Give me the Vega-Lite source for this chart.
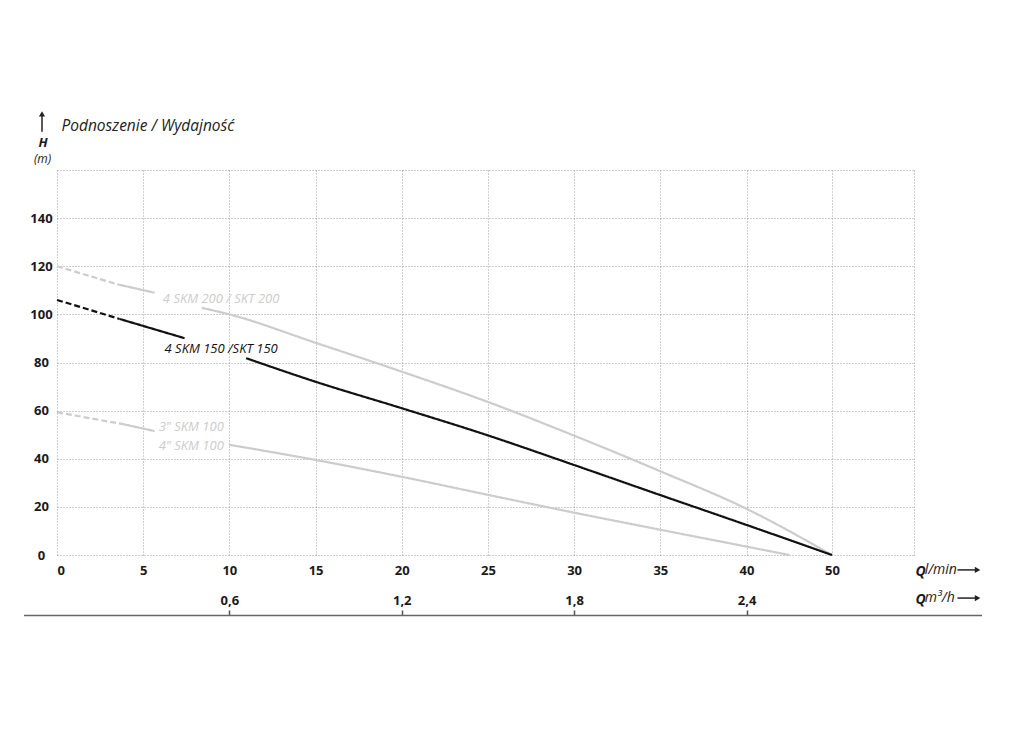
{
  "$schema": "https://vega.github.io/schema/vega-lite/v6.json",
  "width": 857,
  "height": 385,
  "autosize": {"type": "none"},
  "padding": {"left": 57, "top": 170, "right": 110, "bottom": 177},
  "background": "white",
  "config": {
    "view": {"stroke": null},
    "font": "Open Sans",
    "axis": {"labelFont": "Open Sans", "titleFont": "Open Sans", "labelColor": "#1a1a1a", "titleColor": "#1a1a1a"},
    "text": {"font": "Open Sans"}
  },
  "resolve": {"scale": {"x": "independent"}, "axis": {"x": "independent"}},
  "layer": [
    {
      "layer": [
        {
          "data": {
            "values": [
              {"pump": "3\"/4\" SKM 100", "seg": "100a", "style": "dashed", "q": 0, "h": 59.3},
              {"pump": "3\"/4\" SKM 100", "seg": "100a", "style": "dashed", "q": 3.82, "h": 54.4},
              {"pump": "3\"/4\" SKM 100", "seg": "100b", "style": "solid", "q": 3.82, "h": 54.4},
              {"pump": "3\"/4\" SKM 100", "seg": "100b", "style": "solid", "q": 5.66, "h": 51.5},
              {"pump": "3\"/4\" SKM 100", "seg": "100c", "style": "solid", "q": 10, "h": 45.8},
              {"pump": "3\"/4\" SKM 100", "seg": "100c", "style": "solid", "q": 15, "h": 39.5},
              {"pump": "3\"/4\" SKM 100", "seg": "100c", "style": "solid", "q": 20, "h": 32.5},
              {"pump": "3\"/4\" SKM 100", "seg": "100c", "style": "solid", "q": 25, "h": 25.0},
              {"pump": "3\"/4\" SKM 100", "seg": "100c", "style": "solid", "q": 30, "h": 17.6},
              {"pump": "3\"/4\" SKM 100", "seg": "100c", "style": "solid", "q": 35, "h": 10.5},
              {"pump": "3\"/4\" SKM 100", "seg": "100c", "style": "solid", "q": 40, "h": 3.5},
              {"pump": "3\"/4\" SKM 100", "seg": "100c", "style": "solid", "q": 45, "h": 0},
              {"pump": "4 SKM 200 / SKT 200", "seg": "200a", "style": "dashed", "q": 0, "h": 120},
              {"pump": "4 SKM 200 / SKT 200", "seg": "200a", "style": "dashed", "q": 3.5, "h": 112.5},
              {"pump": "4 SKM 200 / SKT 200", "seg": "200b", "style": "solid", "q": 3.5, "h": 112.5},
              {"pump": "4 SKM 200 / SKT 200", "seg": "200b", "style": "solid", "q": 5.66, "h": 109.0},
              {"pump": "4 SKM 200 / SKT 200", "seg": "200c", "style": "solid", "q": 8.4, "h": 102.7},
              {"pump": "4 SKM 200 / SKT 200", "seg": "200c", "style": "solid", "q": 10, "h": 100.0},
              {"pump": "4 SKM 200 / SKT 200", "seg": "200c", "style": "solid", "q": 15, "h": 88.2},
              {"pump": "4 SKM 200 / SKT 200", "seg": "200c", "style": "solid", "q": 20, "h": 76.2},
              {"pump": "4 SKM 200 / SKT 200", "seg": "200c", "style": "solid", "q": 25, "h": 63.6},
              {"pump": "4 SKM 200 / SKT 200", "seg": "200c", "style": "solid", "q": 30, "h": 49.6},
              {"pump": "4 SKM 200 / SKT 200", "seg": "200c", "style": "solid", "q": 35, "h": 34.8},
              {"pump": "4 SKM 200 / SKT 200", "seg": "200c", "style": "solid", "q": 40, "h": 19.2},
              {"pump": "4 SKM 200 / SKT 200", "seg": "200c", "style": "solid", "q": 50, "h": 0},
              {"pump": "4 SKM 150 /SKT 150", "seg": "150a", "style": "dashed", "q": 0, "h": 106.0},
              {"pump": "4 SKM 150 /SKT 150", "seg": "150a", "style": "dashed", "q": 3.63, "h": 98.1},
              {"pump": "4 SKM 150 /SKT 150", "seg": "150b", "style": "solid", "q": 3.63, "h": 98.1},
              {"pump": "4 SKM 150 /SKT 150", "seg": "150b", "style": "solid", "q": 7.4, "h": 90.1},
              {"pump": "4 SKM 150 /SKT 150", "seg": "150c", "style": "solid", "q": 10.97, "h": 81.8},
              {"pump": "4 SKM 150 /SKT 150", "seg": "150c", "style": "solid", "q": 15, "h": 72.0},
              {"pump": "4 SKM 150 /SKT 150", "seg": "150c", "style": "solid", "q": 20, "h": 61.0},
              {"pump": "4 SKM 150 /SKT 150", "seg": "150c", "style": "solid", "q": 25, "h": 49.7},
              {"pump": "4 SKM 150 /SKT 150", "seg": "150c", "style": "solid", "q": 30, "h": 37.4},
              {"pump": "4 SKM 150 /SKT 150", "seg": "150c", "style": "solid", "q": 35, "h": 24.9},
              {"pump": "4 SKM 150 /SKT 150", "seg": "150c", "style": "solid", "q": 40, "h": 12.5},
              {"pump": "4 SKM 150 /SKT 150", "seg": "150c", "style": "solid", "q": 50, "h": 0}
            ]
          },
          "mark": {"type": "line", "strokeWidth": 2.2, "strokeCap": "butt", "interpolate": "monotone"},
          "encoding": {
            "x": {
              "field": "q", "type": "quantitative", "title": "Q",
              "scale": {"domain": [0, 40, 50, 60], "range": [0, 689.5, 775, 857], "nice": false, "zero": false},
              "axis": {
                "values": [0, 5, 10, 15, 20, 25, 30, 35, 40, 50, 60],
                "labelExpr": "datum.value == 60 ? '' : datum.label",
                "grid": true, "gridColor": "#9a9a9a", "gridDash": [1, 2], "gridWidth": 1,
                "domain": false, "ticks": false, "tickSize": 0,
                "labelFlush": true, "labelPadding": 9,
                "labelFontWeight": "bold", "labelFontSize": 13,
                "title": "Q", "titleX": 858, "titleY": 20, "titleAlign": "left", "titleBaseline": "alphabetic",
                "titleFontStyle": "italic", "titleFontWeight": "bold", "titleFontSize": 14
              }
            },
            "y": {
              "field": "h", "type": "quantitative", "title": "H",
              "scale": {"domain": [0, 160], "nice": false},
              "axis": {
                "values": [0, 20, 40, 60, 80, 100, 120, 140, 160],
                "labelExpr": "datum.value == 160 ? '' : datum.label",
                "grid": true, "gridColor": "#9a9a9a", "gridDash": [1, 2], "gridWidth": 1,
                "domain": false, "ticks": false, "tickSize": 0,
                "labelAlign": "center", "labelPadding": 16,
                "labelFontWeight": "bold", "labelFontSize": 13,
                "title": "H", "titleAngle": 0, "titleX": -14.5, "titleY": -24, "titleAlign": "center", "titleBaseline": "alphabetic",
                "titleFontStyle": "italic", "titleFontWeight": "bold", "titleFontSize": 13
              }
            },
            "color": {
              "field": "pump", "type": "nominal", "legend": null,
              "scale": {"domain": ["4 SKM 200 / SKT 200", "4 SKM 150 /SKT 150", "3\"/4\" SKM 100"], "range": ["#cccccc", "#111111", "#cccccc"]}
            },
            "strokeDash": {
              "field": "style", "type": "nominal", "legend": null,
              "scale": {"domain": ["dashed", "solid"], "range": [[6, 3], [1, 0]]}
            },
            "detail": {"field": "seg", "type": "nominal"}
          }
        },
        {
          "data": {
            "values": [
              {"label": "4 SKM 200 / SKT 200", "pump": "4 SKM 200 / SKT 200", "q": 6.14, "h": 104.8},
              {"label": "4 SKM 150 /SKT 150", "pump": "4 SKM 150 /SKT 150", "q": 6.24, "h": 84.0},
              {"label": "3\" SKM 100", "pump": "3\"/4\" SKM 100", "q": 5.9, "h": 51.5},
              {"label": "4\" SKM 100", "pump": "3\"/4\" SKM 100", "q": 5.9, "h": 43.8}
            ]
          },
          "mark": {"type": "text", "align": "left", "baseline": "alphabetic", "fontStyle": "italic", "fontSize": 13},
          "encoding": {
            "x": {"field": "q", "type": "quantitative", "title": "Q"},
            "y": {"field": "h", "type": "quantitative", "title": "H"},
            "text": {"field": "label"},
            "color": {"field": "pump", "type": "nominal", "legend": null}
          }
        },
        {
          "data": {"values": [{}]},
          "mark": {"type": "text", "text": "Podnoszenie / Wydajność", "align": "left", "baseline": "alphabetic", "fontStyle": "italic", "fontSize": 15.5, "color": "#222222"},
          "encoding": {"x": {"datum": 0.26, "type": "quantitative", "title": "Q"}, "y": {"datum": 176.4, "type": "quantitative", "title": "H"}}
        },
        {
          "data": {"values": [{}]},
          "mark": {"type": "rule", "strokeWidth": 1.5, "color": "#222222"},
          "encoding": {"x": {"datum": -0.87, "type": "quantitative", "title": "Q"}, "y": {"datum": 175.9, "type": "quantitative", "title": "H"}, "y2": {"datum": 182.5}}
        },
        {
          "data": {"values": [{}]},
          "mark": {"type": "point", "shape": "triangle-up", "filled": true, "size": 38, "opacity": 1, "color": "#222222"},
          "encoding": {"x": {"datum": -0.87, "type": "quantitative", "title": "Q"}, "y": {"datum": 183.3, "type": "quantitative", "title": "H"}}
        },
        {
          "data": {"values": [{}]},
          "mark": {"type": "text", "text": "(m)", "align": "center", "baseline": "alphabetic", "fontStyle": "italic", "fontSize": 12, "color": "#222222"},
          "encoding": {"x": {"datum": -0.84, "type": "quantitative", "title": "Q"}, "y": {"datum": 162.9, "type": "quantitative", "title": "H"}}
        },
        {
          "data": {"values": [{}]},
          "mark": {"type": "text", "text": "l/min", "align": "left", "baseline": "alphabetic", "fontStyle": "italic", "fontSize": 14, "color": "#222222"},
          "encoding": {"x": {"datum": 61.3, "type": "quantitative", "title": "Q"}, "y": {"datum": -8.1, "type": "quantitative", "title": "H"}}
        },
        {
          "data": {"values": [{}]},
          "mark": {"type": "rule", "strokeWidth": 1.5, "color": "#222222"},
          "encoding": {"x": {"datum": 65.3, "type": "quantitative", "title": "Q"}, "x2": {"datum": 67.6}, "y": {"datum": -6.2, "type": "quantitative", "title": "H"}}
        },
        {
          "data": {"values": [{}]},
          "mark": {"type": "point", "shape": "triangle-right", "filled": true, "size": 40, "opacity": 1, "color": "#222222"},
          "encoding": {"x": {"datum": 67.75, "type": "quantitative", "title": "Q"}, "y": {"datum": -6.2, "type": "quantitative", "title": "H"}}
        },
        {
          "data": {"values": [{}]},
          "mark": {"type": "text", "text": "m³/h", "align": "left", "baseline": "alphabetic", "fontStyle": "italic", "fontSize": 14, "color": "#222222"},
          "encoding": {"x": {"datum": 61.3, "type": "quantitative", "title": "Q"}, "y": {"datum": -19.7, "type": "quantitative", "title": "H"}}
        },
        {
          "data": {"values": [{}]},
          "mark": {"type": "rule", "strokeWidth": 1.5, "color": "#222222"},
          "encoding": {"x": {"datum": 65.3, "type": "quantitative", "title": "Q"}, "x2": {"datum": 67.6}, "y": {"datum": -17.9, "type": "quantitative", "title": "H"}}
        },
        {
          "data": {"values": [{}]},
          "mark": {"type": "point", "shape": "triangle-right", "filled": true, "size": 40, "opacity": 1, "color": "#222222"},
          "encoding": {"x": {"datum": 67.75, "type": "quantitative", "title": "Q"}, "y": {"datum": -17.9, "type": "quantitative", "title": "H"}}
        }
      ]
    },
    {
      "data": {"values": [{"m3h": 0.6}, {"m3h": 1.2}, {"m3h": 1.8}, {"m3h": 2.4}]},
      "mark": {"type": "point", "opacity": 0},
      "encoding": {
        "x": {
          "field": "m3h", "type": "quantitative", "title": "Q",
          "scale": {"domain": [-0.1166, 3.2179], "range": [-33.5, 924.5], "nice": false, "zero": false},
          "axis": {
            "orient": "top", "offset": -445,
            "values": [0.6, 1.2, 1.8, 2.4],
            "labelExpr": "replace(format(datum.value, '.1f'), '.', ',')",
            "grid": false,
            "domain": true, "domainColor": "#666666", "domainWidth": 1.5,
            "ticks": true, "tickColor": "#555555", "tickWidth": 1.5, "tickSize": 5,
            "labelPadding": 3, "labelFontWeight": "bold", "labelFontSize": 13,
            "title": "Q", "titleX": 858, "titleY": -12, "titleAlign": "left", "titleBaseline": "alphabetic", "titleAngle": 0,
            "titleFontStyle": "italic", "titleFontWeight": "bold", "titleFontSize": 14
          }
        },
        "y": {"datum": 0, "type": "quantitative", "title": "H"}
      }
    }
  ]
}
